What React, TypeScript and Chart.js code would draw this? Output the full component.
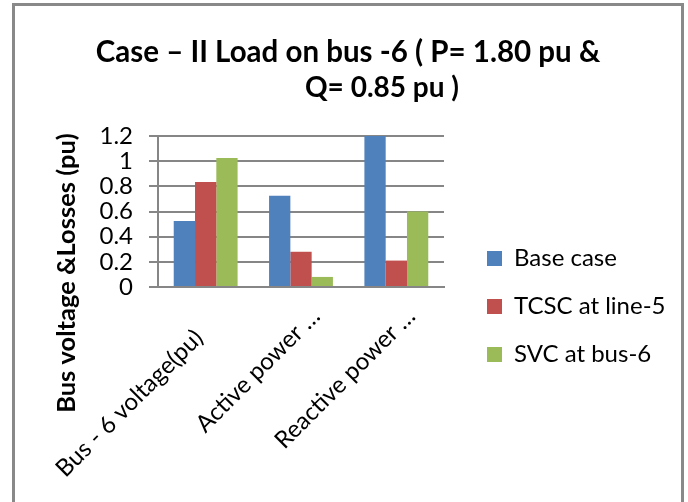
import React, { useEffect, useRef } from "react";
import { Chart, registerables } from "chart.js";

Chart.register(...registerables);

const categories = ["Bus - 6 voltage(pu)     ", "Active power …", "Reactive power …"];
const seriesNames = ["Base case", "TCSC at line-5", "SVC at bus-6"];
const baseCase = [0.525, 0.725, 1.2];
const tcscLine5 = [0.835, 0.28, 0.21];
const svcBus6 = [1.025, 0.08, 0.6];
const seriesColors = ["#4F81BD", "#C0504D", "#9BBB59"];
const yMin = 0;
const yMax = 1.2;
const yStep = 0.2;
const titleLines = ["Case – II Load on bus -6 ( P= 1.80 pu &", "Q= 0.85 pu )"];
const yAxisTitle = "Bus voltage &Losses (pu)";

const FONT = "Lato";

const decorPlugin = {
  id: "decor",
  beforeDraw(chart: any) {
    const ctx = chart.ctx;
    ctx.save();
    ctx.fillStyle = "#ffffff";
    ctx.fillRect(0, 0, chart.width, chart.height);
    ctx.restore();
  },
  afterLayout(chart: any) {
    const lg = chart.legend;
    if (lg) {
      lg.left = 463;
      lg.right = 688;
      lg.top = 222.5;
      lg.bottom = 502;
      lg.width = lg.right - lg.left;
      lg.height = lg.bottom - lg.top;
    }
  },
  afterDraw(chart: any) {
    const ctx = chart.ctx;
    ctx.save();
    ctx.strokeStyle = "#898989";
    ctx.lineWidth = 3;
    ctx.strokeRect(13.5, 4.5, 669, 540);
    ctx.fillStyle = "#000000";
    ctx.textAlign = "center";
    ctx.textBaseline = "alphabetic";
    ctx.font = `bold 29.5px ${FONT}`;
    ctx.fillText(titleLines[0], 348, 62);
    ctx.font = `bold 28px ${FONT}`;
    ctx.fillText(titleLines[1], 382, 97);
    ctx.translate(67, 273);
    ctx.rotate(-Math.PI / 2);
    ctx.textBaseline = "middle";
    ctx.font = `bold 25.5px ${FONT}`;
    ctx.fillText(yAxisTitle, 0, 0);
    ctx.restore();
  },
};

export default function App() {
  const canvasRef = useRef<HTMLCanvasElement | null>(null);

  useEffect(() => {
    if (!canvasRef.current) return;
    Chart.defaults.font.family = FONT;
    const chart = new Chart(canvasRef.current, {
      type: "bar",
      data: {
        labels: categories,
        datasets: [
          { label: seriesNames[0], data: baseCase, backgroundColor: seriesColors[0], borderWidth: 0 },
          { label: seriesNames[1], data: tcscLine5, backgroundColor: seriesColors[1], borderWidth: 0 },
          { label: seriesNames[2], data: svcBus6, backgroundColor: seriesColors[2], borderWidth: 0 },
        ],
      },
      options: {
        responsive: false,
        devicePixelRatio: 1,
        animation: false,
        layout: { padding: { top: 136, left: 0, right: 244, bottom: 0 } },
        datasets: { bar: { categoryPercentage: 0.67, barPercentage: 1 } },
        plugins: {
          title: { display: false },
          tooltip: { enabled: false },
          legend: {
            display: true,
            position: "chartArea",
            align: "start",
            labels: {
              font: { family: FONT, size: 24 },
              color: "#000000",
              boxWidth: 15,
              boxHeight: 15,
              padding: 24,
            },
          },
        },
        scales: {
          x: {
            afterFit(scale: any) {
              scale.height = 502 - 287;
            },
            grid: { display: false, drawTicks: false },
            border: { display: true, color: "#868686", width: 2 },
            ticks: {
              autoSkip: false,
              minRotation: 45,
              maxRotation: 45,
              padding: 15,
              labelOffset: 15,
              color: "#000000",
              font: { family: FONT, size: 24 },
            },
          },
          y: {
            min: yMin,
            max: yMax,
            afterFit(scale: any) {
              scale.width = 158;
            },
            grid: { color: "#868686", lineWidth: 2, tickLength: 9, drawTicks: true },
            border: { display: true, color: "#868686", width: 2 },
            ticks: {
              stepSize: yStep,
              autoSkip: false,
              padding: 16,
              color: "#000000",
              font: { family: FONT, size: 24 },
              callback: (v: any) => String(Number(Number(v).toFixed(1))),
            },
          },
        },
      },
      plugins: [decorPlugin],
    });
    return () => chart.destroy();
  }, []);

  return (
    <div style={{ position: "fixed", left: 0, top: 0, width: 688, height: 502, background: "#fff" }}>
      <canvas ref={canvasRef} width={688} height={502} style={{ display: "block" }} />
    </div>
  );
}
